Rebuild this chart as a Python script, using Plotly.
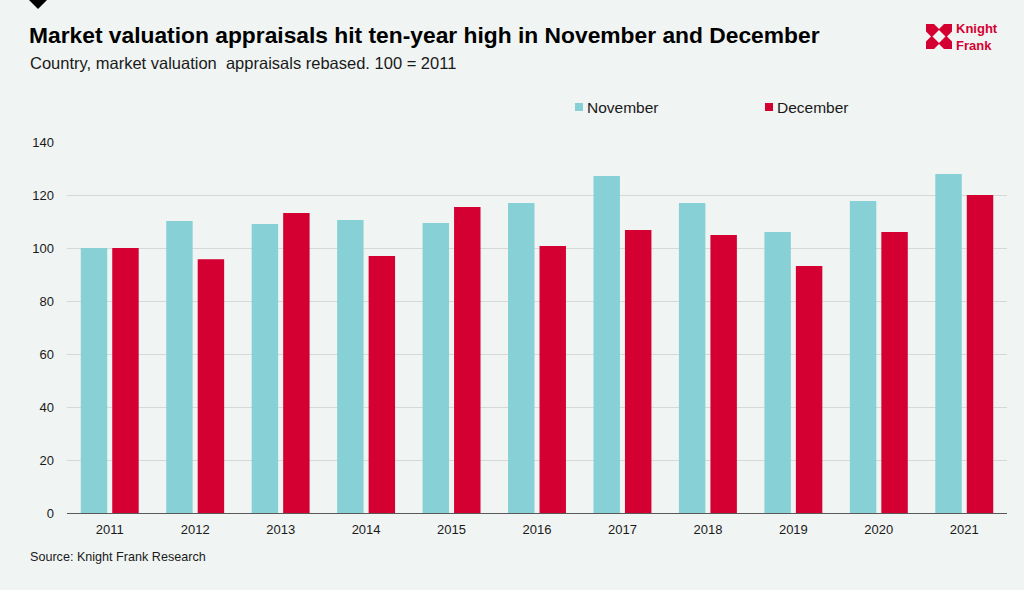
import plotly.graph_objects as go

years = ["2011", "2012", "2013", "2014", "2015", "2016", "2017", "2018", "2019", "2020", "2021"]
november = [100.0, 110.2, 109.1, 110.6, 109.4, 117.0, 127.2, 117.0, 106.0, 117.7, 127.9]
december = [100.0, 95.8, 113.2, 97.0, 115.5, 100.8, 106.8, 104.9, 93.2, 106.0, 120.0]
series_names = ["November", "December"]
colors = ["#87D1D6", "#D50032"]
y_ticks = [0, 20, 40, 60, 80, 100, 120, 140]

title = "Market valuation appraisals hit ten-year high in November and December"
subtitle = "Country, market valuation  appraisals rebased. 100 = 2011"
source = "Source: Knight Frank Research"

W, H = 1024, 590
L, R, T, B = 67, 1007, 142, 513
FONT = "Liberation Sans, Arial, sans-serif"
BG = "#F0F4F3"


def px(x):
    return (x - L) / (R - L)


def py(y):
    return (B - y) / (B - T)


fig = go.Figure()
for name, vals, col in zip(series_names, [november, december], colors):
    fig.add_trace(go.Bar(x=years, y=vals, name=name, marker=dict(color=col, line=dict(width=0)),
                         showlegend=False, hovertemplate="%{x}: %{y}<extra>" + name + "</extra>"))

shapes = []
annotations = []

# top-left black triangle
shapes.append(dict(type="path", xref="paper", yref="paper",
                   path=f"M {px(28)} {py(-1)} L {px(48)} {py(-1)} L {px(38)} {py(9)} Z",
                   fillcolor="#000000", line=dict(width=0)))

# title / subtitle / source
annotations.append(dict(text=f"<b>{title}</b>", x=px(27), y=py(35), xref="paper", yref="paper",
                        xanchor="left", yanchor="middle", showarrow=False,
                        font=dict(family=FONT, size=22.8, color="#000000")))
annotations.append(dict(text=subtitle, x=px(28), y=py(63), xref="paper", yref="paper",
                        xanchor="left", yanchor="middle", showarrow=False,
                        font=dict(family=FONT, size=16.5, color="#1a1a1a")))
annotations.append(dict(text=source, x=px(28), y=py(557), xref="paper", yref="paper",
                        xanchor="left", yanchor="middle", showarrow=False,
                        font=dict(family=FONT, size=12.6, color="#1a1a1a")))

# manual legend
leg_x = [575, 765]
for name, col, lx in zip(series_names, colors, leg_x):
    shapes.append(dict(type="rect", xref="paper", yref="paper",
                       x0=px(lx), x1=px(lx + 8), y0=py(111), y1=py(103),
                       fillcolor=col, line=dict(width=0)))
    annotations.append(dict(text=name, x=px(lx + 10), y=py(107), xref="paper", yref="paper",
                            xanchor="left", yanchor="middle", showarrow=False,
                            font=dict(family=FONT, size=15.5, color="#1a1a1a")))

# Knight Frank logo
red = "#D50032"
x0, x1, y0, y1 = 926, 952, 24, 49
xm, ym = (x0 + x1) / 2, (y0 + y1) / 2
shapes.append(dict(type="rect", xref="paper", yref="paper", x0=px(x0), x1=px(x1), y0=py(y1), y1=py(y0),
                   fillcolor=red, line=dict(width=0)))
d = 6.5
shapes.append(dict(type="path", xref="paper", yref="paper",
                   path=f"M {px(xm)} {py(ym-d)} L {px(xm+d)} {py(ym)} L {px(xm)} {py(ym+d)} L {px(xm-d)} {py(ym)} Z",
                   fillcolor=BG, line=dict(width=0)))
n = 5
for path in [
    f"M {px(xm-n)} {py(y0)} L {px(xm+n)} {py(y0)} L {px(xm)} {py(y0+n)} Z",
    f"M {px(xm-n)} {py(y1)} L {px(xm+n)} {py(y1)} L {px(xm)} {py(y1-n)} Z",
    f"M {px(x0)} {py(ym-n)} L {px(x0)} {py(ym+n)} L {px(x0+n)} {py(ym)} Z",
    f"M {px(x1)} {py(ym-n)} L {px(x1)} {py(ym+n)} L {px(x1-n)} {py(ym)} Z",
]:
    shapes.append(dict(type="path", xref="paper", yref="paper", path=path, fillcolor=BG, line=dict(width=0)))
annotations.append(dict(text="<b>Knight</b><br><b>Frank</b>", x=px(954), y=py(37), xref="paper", yref="paper",
                        xanchor="left", yanchor="middle", align="left", showarrow=False,
                        font=dict(family=FONT, size=13, color=red)))

fig.update_layout(
    width=W, height=H,
    margin=dict(l=L, r=W - R, t=T, b=H - B, autoexpand=False),
    paper_bgcolor=BG, plot_bgcolor=BG,
    barmode="group", bargap=0.263, bargroupgap=0.16,
    showlegend=False,
    shapes=shapes, annotations=annotations,
    font=dict(family=FONT, color="#1a1a1a"),
    xaxis=dict(showgrid=False, showline=True, linecolor="#595959", linewidth=1,
               ticks="", tickfont=dict(family=FONT, size=13, color="#1a1a1a"), ticklabelstandoff=4),
    yaxis=dict(range=[0, 140], tickvals=y_ticks, showgrid=True, gridcolor="#D6D8D8", gridwidth=1,
               zeroline=False, showline=False, ticks="",
               tickfont=dict(family=FONT, size=13, color="#1a1a1a"), ticklabelstandoff=12),
)

fig.write_html("out.html", config={"displayModeBar": False},
               post_script="document.body.style.margin='0';document.body.style.padding='0';"
                           "document.body.style.background='" + BG + "';")
